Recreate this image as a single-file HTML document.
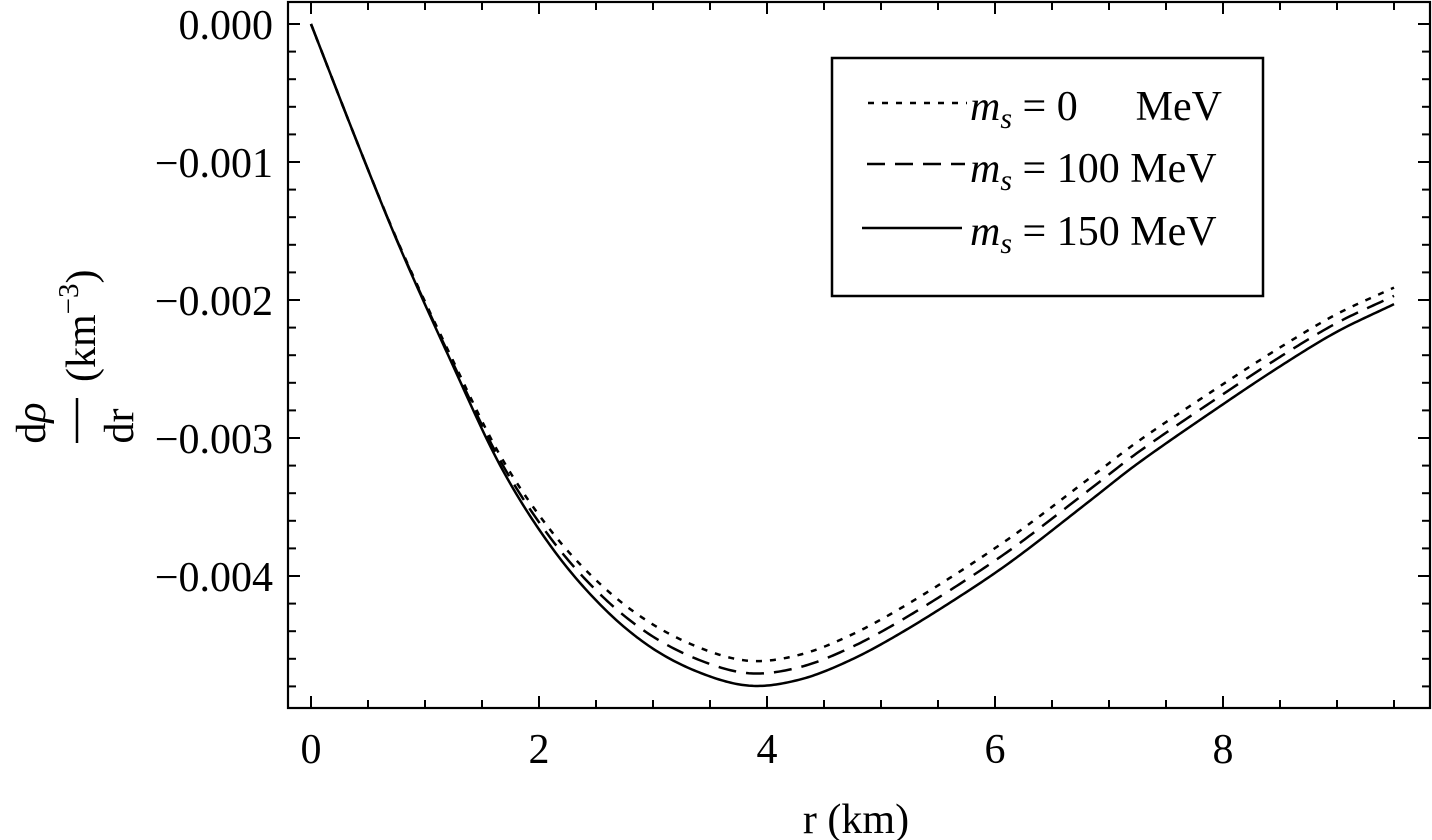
<!DOCTYPE html>
<html><head><meta charset="utf-8"><style>
html,body{margin:0;padding:0;background:#fff;}
svg{display:block;}
text{font-family:"Liberation Serif","DejaVu Serif",serif;fill:#000;}
</style></head><body>
<svg id="s" width="1432" height="840" viewBox="0 0 1432 840" xmlns="http://www.w3.org/2000/svg">
<rect x="288" y="2" width="1142" height="706" fill="none" stroke="#000" stroke-width="2.2"/>
<g id="ticks" stroke="#000" stroke-width="2"></g>
<g font-size="42" text-anchor="end">
<text x="273" y="39">0.000</text>
<text x="273" y="177">−0.001</text>
<text x="273" y="315">−0.002</text>
<text x="273" y="453">−0.003</text>
<text x="273" y="591">−0.004</text>
</g>
<g font-size="42" text-anchor="middle">
<text x="311" y="763">0</text>
<text x="539" y="763">2</text>
<text x="767" y="763">4</text>
<text x="995" y="763">6</text>
<text x="1223" y="763">8</text>
<text x="856" y="833">r (km)</text>
</g>
<g font-size="42">
<text transform="translate(45,423) rotate(-90)" text-anchor="middle">d<tspan font-style="italic">ρ</tspan></text>
<line x1="77" y1="398" x2="77" y2="443" stroke="#000" stroke-width="2.5"/>
<text transform="translate(133,426) rotate(-90)" text-anchor="middle">dr</text>
<text transform="translate(95,382) rotate(-90)">(km<tspan font-size="29" dy="-17">−3</tspan><tspan dy="17">)</tspan></text>
</g>
<g id="curves" fill="none" stroke="#000" stroke-width="2.5"></g>
<rect x="832" y="58" width="431" height="238" fill="#fff" stroke="#000" stroke-width="2.5"/>
<g stroke="#000" stroke-width="2.5">
<line x1="868" y1="103" x2="967" y2="103" stroke-dasharray="6,8"/>
<line x1="867" y1="164" x2="965" y2="164" stroke-dasharray="18,10"/>
<line x1="862" y1="228" x2="962" y2="228"/>
</g>
<g font-size="42">
<text x="970" y="120"><tspan font-style="italic">m</tspan><tspan font-style="italic" font-size="30" dy="8">s</tspan><tspan dy="-8"> = 0</tspan></text>
<text x="1222" y="120" text-anchor="end">MeV</text>
<text x="970" y="182"><tspan font-style="italic">m</tspan><tspan font-style="italic" font-size="30" dy="8">s</tspan><tspan dy="-8"> = 100 MeV</tspan></text>
<text x="970" y="245"><tspan font-style="italic">m</tspan><tspan font-style="italic" font-size="30" dy="8">s</tspan><tspan dy="-8"> = 150 MeV</tspan></text>
</g>
</svg>
<script>
(function(){
var NS="http://www.w3.org/2000/svg";
function X(r){return 311+114*r;}
function Y(v){return 24-138*v;}
var tk=document.getElementById('ticks');
function ln(x1,y1,x2,y2){var l=document.createElementNS(NS,'line');l.setAttribute('x1',x1);l.setAttribute('y1',y1);l.setAttribute('x2',x2);l.setAttribute('y2',y2);tk.appendChild(l);}
for(var i=0;i<=19;i++){var r=i*0.5,x=X(r),L=(i%4==0)?12:8;ln(x,708,x,708-L);ln(x,2,x,2+L);}
for(var j=0;j<=24;j++){var v=-j*0.2,y=Y(v),L=(j%5==0)?12:8;ln(288,y,288+L,y);ln(1430,y,1430-L,y);}
var P=[[0,0],[0.43,-0.91],[0.78,-1.62],[1.22,-2.43],[1.66,-3.20],[2.10,-3.78],[2.54,-4.21],[2.97,-4.51],[3.41,-4.70],[3.85,-4.795],[4.29,-4.75],[4.73,-4.61],[5.18,-4.41],[5.78,-4.10],[6.20,-3.86],[6.84,-3.45],[7.26,-3.18],[8.01,-2.75],[8.54,-2.46],[9.0,-2.23],[9.5,-2.03]];
function interp(r){
 var n=P.length;var k=0;while(k<n-2&&P[k+1][0]<r)k++;
 var p0=P[Math.max(k-1,0)],p1=P[k],p2=P[k+1],p3=P[Math.min(k+2,n-1)];
 var t=(r-p1[0])/(p2[0]-p1[0]);
 var m1=(p2[1]-p0[1])/(p2[0]-p0[0]||1)*(p2[0]-p1[0]);
 var m2=(p3[1]-p1[1])/(p3[0]-p1[0]||1)*(p2[0]-p1[0]);
 var t2=t*t,t3=t2*t;
 return (2*t3-3*t2+1)*p1[1]+(t3-2*t2+t)*m1+(-2*t3+3*t2)*p2[1]+(t3-t2)*m2;
}
function ss(a,b,x){var t=Math.min(1,Math.max(0,(x-a)/(b-a)));return t*t*(3-2*t);}
function delta(r){return 0.18*ss(0.4,3.3,r)-0.06*Math.max(0,(r-6)/3.5);}
var cv=document.getElementById('curves');
[[1,"6,8"],[0.5,"18,10"],[0,null]].forEach(function(c){
 var d="";for(var i=0;i<=475;i++){var r=i*0.02;var v=interp(r)+c[0]*delta(r);d+=(i?"L":"M")+X(r).toFixed(2)+" "+Y(v).toFixed(2);}
 var p=document.createElementNS(NS,'path');p.setAttribute('d',d);if(c[1])p.setAttribute('stroke-dasharray',c[1]);cv.appendChild(p);
});
})();
</script>
</body></html>
